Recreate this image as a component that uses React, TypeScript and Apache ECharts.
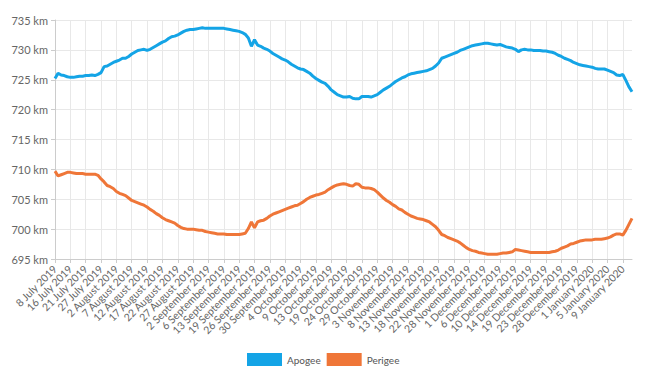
import React, { useEffect, useRef } from "react";
import * as echarts from "echarts";

const tickLabels = [
  "8 July 2019", "16 July 2019", "21 July 2019", "27 July 2019", "2 August 2019", "7 August 2019",
  "12 August 2019", "17 August 2019", "22 August 2019", "27 August 2019", "2 September 2019",
  "6 September 2019", "13 September 2019", "19 September 2019", "26 September 2019",
  "30 September 2019", "4 October 2019", "9 October 2019", "13 October 2019", "19 October 2019",
  "24 October 2019", "29 October 2019", "3 November 2019", "8 November 2019", "13 November 2019",
  "18 November 2019", "22 November 2019", "28 November 2019", "1 December 2019", "6 December 2019",
  "10 December 2019", "14 December 2019", "19 December 2019", "23 December 2019",
  "28 December 2019", "1 January 2020", "5 January 2020", "9 January 2020",
];

const apogee = [
  725.2, 726.1, 725.8, 725.7, 725.5, 725.4, 725.4, 725.5, 725.6, 725.6,
  725.7, 725.7, 725.8, 725.7, 725.9, 726.2, 727.2, 727.3, 727.6, 727.9,
  728.1, 728.3, 728.6, 728.6, 728.9, 729.3, 729.6, 729.9, 730.0, 730.1,
  729.9, 730.1, 730.4, 730.7, 731.0, 731.3, 731.5, 731.9, 732.2, 732.3,
  732.5, 732.8, 733.1, 733.3, 733.4, 733.4, 733.5, 733.6, 733.7, 733.6,
  733.6, 733.6, 733.6, 733.6, 733.6, 733.6, 733.5, 733.4, 733.3, 733.2,
  733.1, 732.9, 732.6, 732.0, 730.6, 731.7, 730.8, 730.6, 730.3, 730.1,
  729.8, 729.4, 729.1, 728.8, 728.5, 728.3, 728.0, 727.6, 727.3, 727.0,
  726.8, 726.7, 726.4, 726.1, 725.6, 725.2, 724.9, 724.6, 724.4, 723.9,
  723.3, 722.9, 722.5, 722.3, 722.1, 722.1, 722.2, 721.9, 721.8, 721.8,
  722.2, 722.2, 722.2, 722.1, 722.3, 722.5, 722.9, 723.3, 723.6, 723.9,
  724.3, 724.7, 725.0, 725.3, 725.5, 725.8, 726.0, 726.1, 726.2, 726.3,
  726.4, 726.5, 726.7, 726.9, 727.3, 727.8, 728.6, 728.8, 729.0, 729.2,
  729.4, 729.6, 729.9, 730.1, 730.3, 730.5, 730.7, 730.8, 730.9, 731.0,
  731.1, 731.1, 731.0, 730.9, 730.8, 730.9, 730.7, 730.5, 730.4, 730.3,
  730.1, 729.7, 730.0, 730.1, 730.0, 730.0, 729.9, 729.9, 729.9, 729.8,
  729.8, 729.7, 729.6, 729.4, 729.1, 728.9, 728.6, 728.4, 728.2, 727.9,
  727.7, 727.5, 727.4, 727.3, 727.2, 727.1, 726.9, 726.8, 726.8, 726.8,
  726.6, 726.4, 726.2, 725.8, 725.7, 725.9, 724.9, 723.8, 723.0,
];

const perigee = [
  709.7, 708.9, 709.1, 709.3, 709.5, 709.5, 709.4, 709.3, 709.3, 709.3,
  709.2, 709.2, 709.2, 709.2, 709.0, 708.4, 707.9, 707.3, 707.1, 706.8,
  706.3, 706.0, 705.8, 705.6, 705.2, 704.8, 704.6, 704.4, 704.2, 704.0,
  703.7, 703.3, 703.0, 702.6, 702.3, 701.9, 701.6, 701.4, 701.2, 701.0,
  700.6, 700.3, 700.1, 700.0, 700.0, 700.0, 699.9, 699.8, 699.8, 699.6,
  699.5, 699.4, 699.3, 699.2, 699.2, 699.2, 699.1, 699.1, 699.1, 699.1,
  699.1, 699.2, 699.3, 700.1, 701.2, 700.2, 701.2, 701.4, 701.5, 701.8,
  702.2, 702.5, 702.7, 702.9, 703.1, 703.3, 703.5, 703.7, 703.9, 704.0,
  704.3, 704.6, 705.0, 705.3, 705.5, 705.7, 705.8, 706.0, 706.2, 706.6,
  706.9, 707.2, 707.4, 707.5, 707.6, 707.5, 707.3, 707.2, 707.6, 707.5,
  707.0, 706.9, 706.9, 706.8, 706.6, 706.2, 705.7, 705.2, 704.8, 704.5,
  704.1, 703.8, 703.4, 703.2, 702.8, 702.5, 702.2, 702.0, 701.8, 701.7,
  701.6, 701.4, 701.2, 700.8, 700.4, 699.8, 699.1, 698.9, 698.6, 698.4,
  698.2, 698.0, 697.7, 697.3, 696.9, 696.6, 696.4, 696.3, 696.1, 696.0,
  695.9, 695.8, 695.8, 695.8, 695.8, 695.9, 696.0, 696.0, 696.1, 696.2,
  696.6, 696.5, 696.4, 696.3, 696.2, 696.1, 696.1, 696.1, 696.1, 696.1,
  696.1, 696.1, 696.2, 696.3, 696.5, 696.8, 697.0, 697.2, 697.5, 697.6,
  697.8, 698.0, 698.1, 698.2, 698.2, 698.2, 698.3, 698.3, 698.3, 698.4,
  698.5, 698.7, 699.0, 699.2, 699.2, 699.0, 699.8, 700.8, 701.8,
];

const yTicks = { min: 695, max: 735, step: 5 };
const POINTS_PER_TICK = 5;

const categories = apogee.map((_, i) => {
  const base = tickLabels[Math.floor(i / POINTS_PER_TICK)] ?? tickLabels[tickLabels.length - 1];
  return i % POINTS_PER_TICK === 0 ? base : `${base} #${i % POINTS_PER_TICK}`;
});

const FONT = "Lato, 'Open Sans', sans-serif";

export default function App() {
  const ref = useRef<HTMLDivElement>(null);
  useEffect(() => {
    if (!ref.current) return;
    const chart = echarts.init(ref.current, null, { renderer: "svg" });
    chart.setOption({
      animation: false,
      textStyle: { fontFamily: FONT },
      grid: { left: 55, right: 28, top: 20, bottom: 123, containLabel: false },
      legend: {
        bottom: 16,
        left: 247,
        padding: 0,
        icon: "rect",
        itemWidth: 35,
        itemHeight: 13,
        itemGap: 6,
        textStyle: { color: "#555", fontSize: 10, fontFamily: FONT },
        data: ["Apogee", "Perigee"],
      },
      xAxis: {
        type: "category",
        data: categories,
        boundaryGap: false,
        axisLine: { lineStyle: { color: "#cccccc" } },
        axisTick: { show: true, interval: POINTS_PER_TICK - 1, length: 4, lineStyle: { color: "#cccccc" } },
        axisLabel: {
          interval: POINTS_PER_TICK - 1,
          rotate: 45,
          color: "#666",
          fontSize: 10.5,
          fontFamily: FONT,
          margin: 8,
          showMinLabel: true,
          hideOverlap: false,
        },
        splitLine: { show: true, interval: POINTS_PER_TICK - 1, lineStyle: { color: "#e8e8e8" } },
      },
      yAxis: {
        type: "value",
        min: yTicks.min,
        max: yTicks.max,
        interval: yTicks.step,
        axisLine: { show: true, lineStyle: { color: "#cccccc" } },
        axisTick: { show: true, length: 4, lineStyle: { color: "#cccccc" } },
        axisLabel: { formatter: "{value} km", color: "#666", fontSize: 11, fontFamily: FONT, margin: 7 },
        splitLine: { lineStyle: { color: "#e8e8e8" } },
      },
      series: [
        {
          name: "Apogee",
          type: "line",
          data: apogee,
          showSymbol: false,
          symbol: "none",
          lineStyle: { width: 3, color: "#14a4e6" },
          itemStyle: { color: "#14a4e6" },
        },
        {
          name: "Perigee",
          type: "line",
          data: perigee,
          showSymbol: false,
          symbol: "none",
          lineStyle: { width: 3, color: "#ef7638" },
          itemStyle: { color: "#ef7638" },
        },
      ],
    });
    return () => chart.dispose();
  }, []);
  return (
    <div
      ref={ref}
      style={{ position: "absolute", left: 0, top: 0, width: 660, height: 382 }}
    />
  );
}
